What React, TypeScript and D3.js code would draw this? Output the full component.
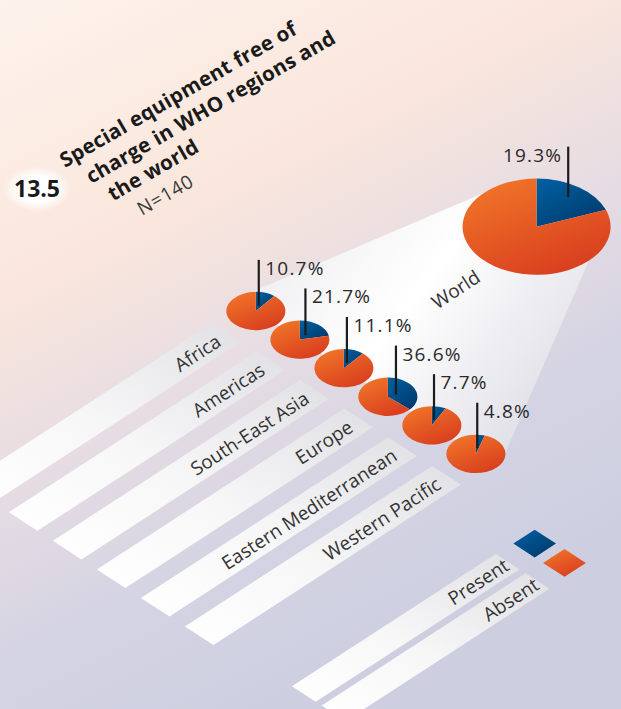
import React from 'react';
import * as d3 from 'd3';

// figure data
const regions = ['Africa', 'Americas', 'South-East Asia', 'Europe', 'Eastern Mediterranean', 'Western Pacific'];
const presentShare = [10.7, 21.7, 11.1, 36.6, 7.7, 4.8];
const worldLabel = 'World';
const worldShare = 19.3;
const legendLabels = ['Present', 'Absent'];
const titleLines = ['Special equipment free of', 'charge in WHO regions and', 'the world'];
const figureNumber = '13.5';
const sampleNote = 'N=140';

const W = 621;
const H = 709;

// isometric plane -> screen
const ANG = (33 * Math.PI) / 180;
const CO = Math.cos(ANG);
const SI = Math.sin(ANG);
const iso = (u: number, v: number): [number, number] => [CO * (u + v), SI * (v - u)];
const poly = (pts: [number, number][]) => 'M' + pts.map((p) => p.map((n) => n.toFixed(1)).join(',')).join('L') + 'Z';

const rowScale = d3.scaleBand<string>().domain(regions).range([423, 719.5]).paddingInner(0.35);
const legendScale = d3.scaleBand<string>().domain(legendLabels).range([804, 868]).paddingInner(0.2);

const STRIP_U0 = -465;
const STRIP_U1 = -170;
const PIE_U = -133;
const PIE_R = 24.9;
const WORLD_U = 111.8;
const WORLD_V = 528;
const WORLD_R = 62.4;
const LEG_U0 = -456;
const LEG_U1 = -213;

const pieGen = d3.pie<number>().sort(null);
const arcGen = d3.arc<d3.PieArcDatum<number>>().innerRadius(0);

const FONT = "'Open Sans', 'Noto Sans', sans-serif";

function Pie({ cx, cy, r, pct, k, labelLeft }: { cx: number; cy: number; r: number; pct: number; k: number; labelLeft?: boolean }) {
  const rx = r * Math.SQRT2 * CO;
  const ry = r * Math.SQRT2 * SI;
  const arcs = pieGen([pct, 100 - pct]);
  const mid = Math.PI * (pct / 100);
  const lx = cx + k * rx * Math.sin(mid);
  const ly = cy - k * ry * Math.cos(mid);
  const top = cy - ry - 32;
  return (
    <g>
      <g transform={`translate(${cx},${cy}) scale(1,${SI / CO})`}>
        {arcs.map((a, i) => (
          <path key={i} d={arcGen.outerRadius(rx)(a) || ''} fill={i === 0 ? 'url(#blueG)' : 'url(#orangeG)'} />
        ))}
      </g>
      <line x1={lx} x2={lx} y1={top} y2={ly} stroke="#1c1c1c" strokeWidth={2.2} />
      <text
        x={labelLeft ? lx - 6 : lx + 6.5}
        y={top + 15}
        textAnchor={labelLeft ? 'end' : 'start'}
        fontFamily={FONT}
        fontSize={19}
        letterSpacing={1.2}
        fill="#2a2a2a"
      >
        {pct.toFixed(1)}%
      </text>
    </g>
  );
}

export default function App() {
  const bw = rowScale.bandwidth();
  const first = rowScale(regions[0])! + bw / 2;
  const last = rowScale(regions[regions.length - 1])! + bw / 2;
  const panel = poly([
    iso(PIE_U, first - PIE_R),
    iso(WORLD_U, WORLD_V - WORLD_R),
    iso(WORLD_U, WORLD_V + WORLD_R),
    iso(PIE_U, last + PIE_R),
  ]);
  const [wx, wy] = iso(WORLD_U, WORLD_V);
  const [wlx, wly] = iso(3, 545);
  const lbw = legendScale.bandwidth();

  return (
    <svg width={W} height={H} style={{ position: 'absolute', left: 0, top: 0 }}>
      <defs>
        <linearGradient id="bgG" x1="0" y1="0" x2="0.45" y2="1">
          <stop offset="0" stopColor="#fdf3ec" />
          <stop offset="0.35" stopColor="#fae6dc" />
          <stop offset="0.58" stopColor="#e6dce3" />
          <stop offset="0.8" stopColor="#d3d3e3" />
          <stop offset="1" stopColor="#cdcfe0" />
        </linearGradient>
        <radialGradient id="glowG">
          <stop offset="0.55" stopColor="#ffffff" stopOpacity="1" />
          <stop offset="1" stopColor="#ffffff" stopOpacity="0" />
        </radialGradient>
        <linearGradient id="orangeG" x1="0" y1="0" x2="0.6" y2="1">
          <stop offset="0" stopColor="#f37a29" />
          <stop offset="1" stopColor="#d9401f" />
        </linearGradient>
        <linearGradient id="blueG" x1="0" y1="0" x2="0.8" y2="1">
          <stop offset="0" stopColor="#0061a3" />
          <stop offset="1" stopColor="#003a6c" />
        </linearGradient>
        <linearGradient id="stripG" x1="0" y1="1" x2="1" y2="0">
          <stop offset="0" stopColor="#ffffff" />
          <stop offset="0.45" stopColor="#f7f7f8" />
          <stop offset="1" stopColor="#e1e1e5" />
        </linearGradient>
        <linearGradient id="panelG" x1="0" y1="0.2" x2="1" y2="0.8">
          <stop offset="0" stopColor="#ececef" />
          <stop offset="0.45" stopColor="#ffffff" />
          <stop offset="1" stopColor="#d9d9e2" />
        </linearGradient>
      </defs>

      <rect x={0} y={0} width={W} height={H} fill="url(#bgG)" />
      <ellipse cx={37} cy={189} rx={34} ry={23} fill="url(#glowG)" />

      {/* funnel to world */}
      <path d={panel} fill="url(#panelG)" />

      {/* region strips */}
      {regions.map((name) => {
        const v0 = rowScale(name)!;
        const [tx, ty] = iso(-184, v0 + bw * 0.77);
        return (
          <g key={name}>
            <path d={poly([iso(STRIP_U0, v0), iso(STRIP_U1, v0), iso(STRIP_U1, v0 + bw), iso(STRIP_U0, v0 + bw)])} fill="url(#stripG)" />
            <text x={tx} y={ty} transform={`rotate(-33,${tx},${ty})`} textAnchor="end" fontFamily={FONT} fontSize={19} fill="#333">
              {name}
            </text>
          </g>
        );
      })}

      {/* legend */}
      {legendLabels.map((name, i) => {
        const v0 = legendScale(name)!;
        const [tx, ty] = iso(LEG_U1 - 5, v0 + lbw * 0.8);
        return (
          <g key={name}>
            <path d={poly([iso(LEG_U0, v0), iso(LEG_U1, v0), iso(LEG_U1, v0 + lbw), iso(LEG_U0, v0 + lbw)])} fill="url(#stripG)" />
            <path
              d={poly([iso(-193, v0 + 1), iso(-167.5, v0 + 1), iso(-167.5, v0 + 26.5), iso(-193, v0 + 26.5)])}
              fill={i === 0 ? 'url(#blueG)' : 'url(#orangeG)'}
            />
            <text x={tx} y={ty} transform={`rotate(-33,${tx},${ty})`} textAnchor="end" fontFamily={FONT} fontSize={19} fill="#333">
              {name}
            </text>
          </g>
        );
      })}

      <text x={wlx} y={wly} transform={`rotate(-33,${wlx},${wly})`} textAnchor="middle" fontFamily={FONT} fontSize={19} fill="#333">
        {worldLabel}
      </text>

      {/* region pies */}
      {regions.map((name, i) => {
        const [cx, cy] = iso(PIE_U, rowScale(name)! + bw / 2 - 2);
        return <Pie key={name} cx={cx} cy={cy} r={PIE_R} pct={presentShare[i]} k={0.3} />;
      })}
      <Pie cx={wx} cy={wy} r={WORLD_R} pct={worldShare} k={0.75} labelLeft />

      {/* title */}
      <text x={14} y={197} fontFamily={FONT} fontWeight={700} fontSize={23} fill="#1a1a1a">
        {figureNumber}
      </text>
      <g transform="translate(65,168) rotate(-30)" fontFamily={FONT} fill="#1a1a1a">
        {titleLines.map((t, i) => (
          <text key={t} x={[0, 14.6, 24.7][i]} y={[0, 27, 53][i]} fontWeight={700} fontSize={20.5} letterSpacing={0.3}>
            {t}
          </text>
        ))}
        <text x={42.7} y={80} fontWeight={400} fontSize={19} letterSpacing={0.8} fill="#3a3a3a">
          {sampleNote}
        </text>
      </g>
    </svg>
  );
}
